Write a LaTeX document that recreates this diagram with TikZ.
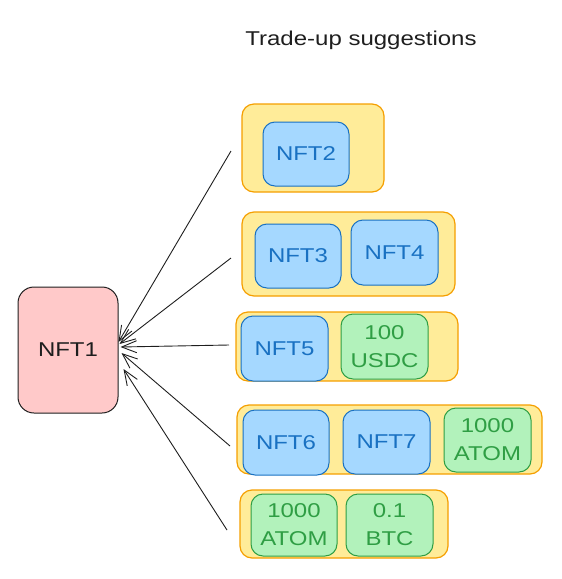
\documentclass[tikz,border=0pt]{standalone}
\usepackage{fontspec}
\setmainfont{Liberation Sans}[FakeStretch=1.2]
\usetikzlibrary{arrows.meta,calc}
\definecolor{pinkfill}{HTML}{FFC9C9}
\definecolor{yelfill}{HTML}{FFEC99}
\definecolor{yelline}{HTML}{F59F00}
\definecolor{bluefill}{HTML}{A5D8FF}
\definecolor{blueline}{HTML}{1971C2}
\definecolor{greenfill}{HTML}{B2F2BB}
\definecolor{greenline}{HTML}{2F9E44}
\definecolor{ink}{HTML}{1E1E1E}
\tikzset{
  group/.style={draw=yelline, fill=yelfill, rounded corners=12pt, line width=1.2pt, inner sep=0pt},
  lbl/.style={font=\fontsize{20}{28}\selectfont, align=center, inner sep=0pt, rounded corners=12pt, line width=1pt},
  nftbox/.style={lbl, draw=blueline, fill=bluefill, text=blueline},
  tokbox/.style={lbl, draw=greenline, fill=greenfill, text=greenline},
  srcbox/.style={lbl, draw=ink, fill=pinkfill, text=ink, rounded corners=16pt},
  link/.style={draw=ink, line width=0.9pt, -{Straight Barb[length=15pt,width=12pt,line width=0.9pt]}},
}
\begin{document}
\begin{tikzpicture}[x=1pt,y=-1pt]
\useasboundingbox (0,0) rectangle (562,579);
\node[font=\fontsize{20}{24}\selectfont, text=ink] (title) at (361,40) {Trade-up suggestions};

\node[srcbox, minimum width=100pt, minimum height=126pt] (nft1) at (68,350) {NFT1};

\node[group, minimum width=142pt, minimum height=88pt] (g1) at (313,148) {};
\node[nftbox, minimum width=86pt, minimum height=64pt] (nft2) at (306,154) {NFT2};

\node[group, minimum width=213pt, minimum height=84pt] (g2) at (348.5,254) {};
\node[nftbox, minimum width=86pt, minimum height=64pt] (nft3) at (298,256) {NFT3};
\node[nftbox, minimum width=87pt, minimum height=65pt] (nft4) at (394.5,252.5) {NFT4};

\node[group, minimum width=222pt, minimum height=69pt] (g3) at (347,346.5) {};
\node[nftbox, minimum width=87pt, minimum height=65pt] (nft5) at (284.5,348.5) {NFT5};
\node[tokbox, minimum width=87pt, minimum height=65pt] (usdc) at (384.5,346.5) {100\\USDC};

\node[group, minimum width=305pt, minimum height=69pt] (g4) at (389.5,439.5) {};
\node[nftbox, minimum width=86pt, minimum height=65pt] (nft6) at (286,442.5) {NFT6};
\node[nftbox, minimum width=87pt, minimum height=64pt] (nft7) at (386.5,442) {NFT7};
\node[tokbox, minimum width=87pt, minimum height=64pt] (atoma) at (487.5,440) {1000\\ATOM};

\node[group, minimum width=208pt, minimum height=68pt] (g5) at (344,524) {};
\node[tokbox, minimum width=86pt, minimum height=62pt] (atomb) at (294,525) {1000\\ATOM};
\node[tokbox, minimum width=87pt, minimum height=62pt] (btc) at (389.5,525) {0.1\\BTC};

\coordinate (s1) at (231,151);
\coordinate (s2) at (231,258);
\coordinate (s3) at (229,345);
\coordinate (s4) at (230,446);
\coordinate (s5) at (227,530);
\coordinate (t1) at ($(nft1.east)+(0,-8)$);
\coordinate (t2) at ($(nft1.east)+(1,-6)$);
\coordinate (t3) at ($(nft1.east)+(2,-3)$);
\coordinate (t4) at ($(nft1.east)+(3,3)$);
\coordinate (t5) at ($(nft1.east)+(5,19)$);
\draw[link] (s1) -- (t1);
\draw[link] (s2) -- (t2);
\draw[link] (s3) -- (t3);
\draw[link] (s4) -- (t4);
\draw[link] (s5) -- (t5);
\end{tikzpicture}
\end{document}
